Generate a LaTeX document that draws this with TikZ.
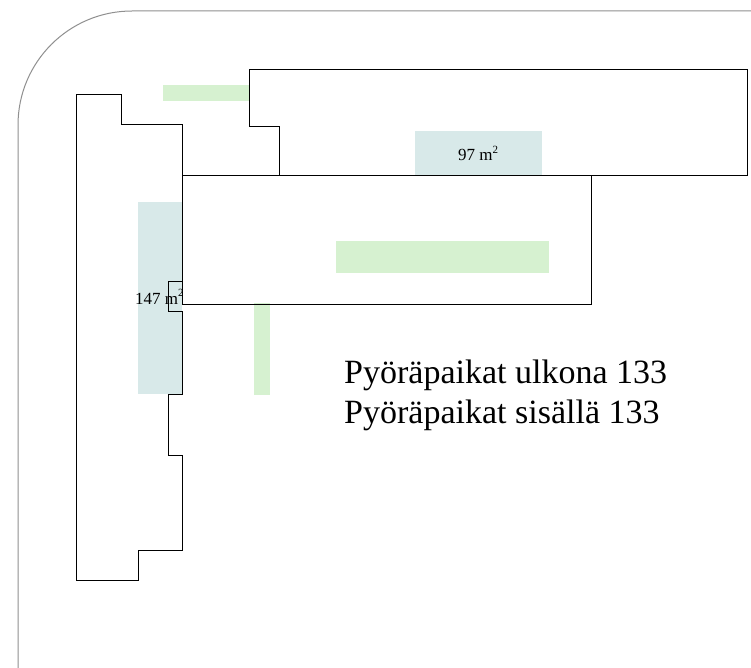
\documentclass[tikz,border=0pt]{standalone}
\usepackage{fontspec}
\setmainfont{Liberation Serif}
\definecolor{areablue}{HTML}{D8E9E9}
\definecolor{areagreen}{HTML}{D6F1D0}
\definecolor{sitegray}{HTML}{909090}
\tikzset{
  building/.style={draw=black,line width=1pt,line join=miter},
  bluearea/.style={fill=areablue,draw=none},
  greenarea/.style={fill=areagreen,draw=none},
  sitelimit/.style={draw=sitegray,line width=1pt},
  smalllabel/.style={inner sep=0pt,font=\fontsize{17}{17}\selectfont,anchor=base west},
  biglabel/.style={inner sep=0pt,font=\fontsize{34}{40}\selectfont,anchor=base west}
}
\begin{document}
\begin{tikzpicture}[x=1pt,y=-1pt]
\useasboundingbox (0,0) rectangle (751,668);
\fill[white] (0,0) rectangle (751,668);
% site boundary
\draw[sitelimit] (18,668) -- (18,125) arc[start angle=180,end angle=90,x radius=114,y radius=-114] -- (751,11);
% surfaces
\fill[bluearea] (138,202) rectangle (182,394);
\fill[bluearea] (415,131) rectangle (542,175);
\fill[greenarea] (163,85) rectangle (249,101);
\fill[greenarea] (254,303) rectangle (270,395);
% buildings
\begin{scope}[yshift=-0.5pt]
\draw[building] (76,94) -- (121,94) -- (121,124) -- (182,124) -- (182,281) -- (168,281) -- (168,311) -- (182,311) -- (182,394) -- (168,394) -- (168,455) -- (182,455) -- (182,550) -- (138,550) -- (138,580) -- (76,580) -- cycle;
\draw[building] (249,69.5) -- (747,69.5) -- (747,175) -- (279,175) -- (279,126) -- (249,126) -- cycle;
\draw[building] (182,175) rectangle (591,303.5);
\end{scope}
\fill[greenarea] (336,241) rectangle (549,273);
% labels
\node[smalllabel] (a147) at (135,304) {147 m\raisebox{0.42em}{\fontsize{11}{11}\selectfont 2}};
\node[smalllabel] (a97) at (458,161) {97 m\raisebox{0.42em}{\fontsize{11}{11}\selectfont 2}};
\node[biglabel] (out) at (344,383) {Pyöräpaikat ulkona 133};
\node[biglabel] (in) at (344,423) {Pyöräpaikat sisällä 133};
\end{tikzpicture}
\end{document}
